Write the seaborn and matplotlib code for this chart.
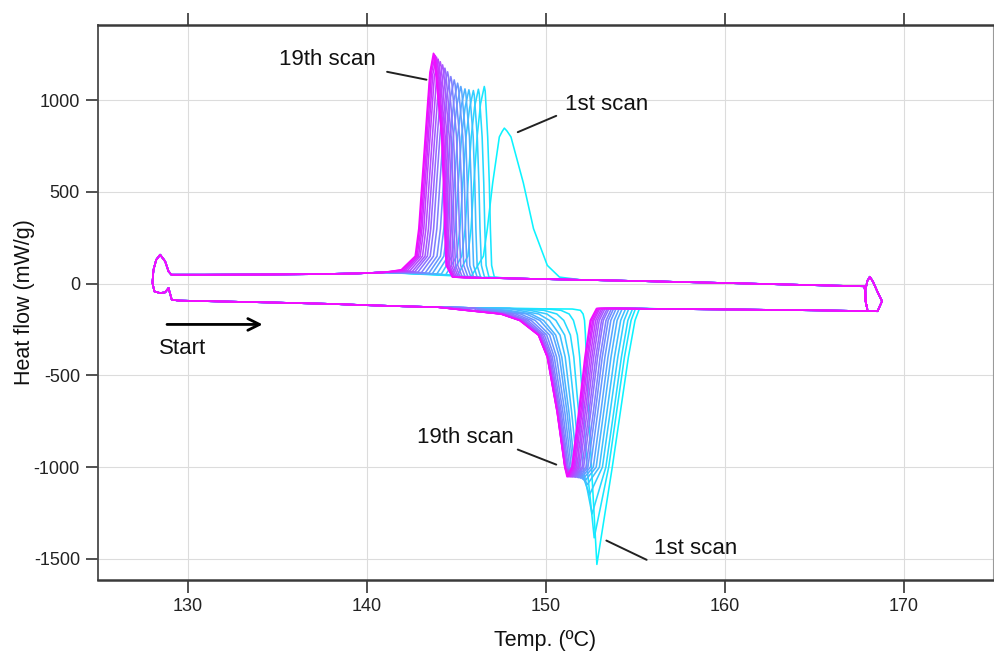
import numpy as np
import pandas as pd
import matplotlib
matplotlib.use('Agg')
import matplotlib.pyplot as plt
import seaborn as sns

# scan labels (1st ... 19th)
scan_names = [f'scan {i}' for i in range(1, 20)]

# --- heating branch (lower curve) ---
start_T = [128.94, 129.12]
start_Y = [-24, -87]
heat_base_T = [129.5, 132, 135, 138, 140, 142, 144, 146, 148, 150, 151.5]
heat_base_Y = [-92, -97, -103, -110, -117, -123, -128, -132, -135, -137, -138]

# melting dip: temperature where each curve crosses these heat-flow levels
melt_levels_left = [-145, -165, -200, -280, -400, -700, -1000]
m_L145 = [151.95, 150.86, 149.90, 149.13, 148.49, 147.92, 147.53, 147.09, 146.70, 146.38, 146.13, 145.93, 145.81, 145.71, 145.65, 145.61, 145.58, 145.56, 145.55]
m_L165 = [152.10, 151.32, 150.63, 150.08, 149.62, 149.20, 148.93, 148.60, 148.33, 148.10, 147.91, 147.78, 147.68, 147.62, 147.57, 147.55, 147.52, 147.51, 147.50]
m_L200 = [152.18, 151.56, 151.02, 150.58, 150.22, 149.89, 149.68, 149.42, 149.20, 149.02, 148.88, 148.77, 148.70, 148.64, 148.60, 148.59, 148.57, 148.56, 148.55]
m_L280 = [152.23, 151.78, 151.39, 151.07, 150.81, 150.57, 150.42, 150.23, 150.07, 149.94, 149.84, 149.76, 149.71, 149.67, 149.64, 149.63, 149.61, 149.61, 149.60]
m_L400 = [152.28, 151.91, 151.58, 151.32, 151.10, 150.91, 150.78, 150.62, 150.49, 150.38, 150.30, 150.23, 150.19, 150.15, 150.13, 150.12, 150.11, 150.10, 150.10]
m_L700 = [152.42, 152.12, 151.85, 151.64, 151.46, 151.31, 151.20, 151.08, 150.97, 150.88, 150.81, 150.76, 150.72, 150.69, 150.68, 150.67, 150.66, 150.65, 150.65]
m_L1000 = [152.57, 152.32, 152.09, 151.91, 151.77, 151.63, 151.54, 151.44, 151.35, 151.27, 151.21, 151.17, 151.14, 151.12, 151.10, 151.10, 151.09, 151.08, 151.08]
m_min_T = [152.87, 152.72, 152.60, 152.46, 152.33, 152.20, 152.08, 151.97, 151.87, 151.78, 151.69, 151.61, 151.53, 151.46, 151.40, 151.34, 151.29, 151.24, 151.20]
m_min_Y = [-1530, -1385, -1255, -1150, -1095, -1075, -1065, -1060, -1058, -1056, -1055, -1054, -1054, -1053, -1053, -1052, -1052, -1052, -1052]
melt_levels_right = [-1000, -700, -400, -200, -135]
m_R1000 = [153.73, 153.53, 153.37, 153.18, 153.01, 152.83, 152.67, 152.51, 152.37, 152.26, 152.13, 152.04, 151.92, 151.83, 151.74, 151.65, 151.58, 151.52, 151.47]
m_R700 = [154.18, 153.97, 153.81, 153.61, 153.43, 153.25, 153.09, 152.92, 152.78, 152.67, 152.53, 152.43, 152.32, 152.22, 152.13, 152.04, 151.97, 151.90, 151.85]
m_R400 = [154.63, 154.41, 154.24, 154.04, 153.85, 153.66, 153.49, 153.32, 153.17, 153.05, 152.91, 152.81, 152.69, 152.59, 152.49, 152.39, 152.32, 152.25, 152.20]
m_R200 = [155.00, 154.78, 154.60, 154.39, 154.20, 154.00, 153.83, 153.65, 153.50, 153.38, 153.23, 153.13, 153.00, 152.90, 152.80, 152.70, 152.63, 152.55, 152.50]
m_ret = [155.25, 155.03, 154.87, 154.66, 154.48, 154.29, 154.12, 153.95, 153.81, 153.69, 153.55, 153.45, 153.33, 153.23, 153.14, 153.04, 152.97, 152.90, 152.85]
post_melt_T = [154.0, 157.0, 161.0, 165.0, 168.55]
post_melt_Y = [-135, -138, -141, -145, -150]

# small loop at the hot end (169 C)
hot_loop_T = [168.8, 168.55, 168.3, 168.12, 167.98, 167.87, 167.88, 167.98, 167.88, 167.86, 167.8]
hot_loop_Y = [-95, -45, 10, 38, 15, -35, -95, -140, -95, -40, -14]

# --- cooling branch (upper curve) ---
cool_base_T = [165, 160, 155, 152, 150, 148, 146.5, 145.5]
cool_base_Y = [-8, 4, 15, 21, 25, 29, 32, 34]
onset_Y = 36
cr_on_T = [150.78, 147.14, 146.84, 146.59, 146.37, 146.18, 145.98, 145.83, 145.67, 145.51, 145.35, 145.23, 145.13, 145.03, 144.94, 144.88, 144.84, 144.81, 144.80]
cryst_levels_right = [100, 300, 550, 800]
cr_R100 = [150.10, 146.99, 146.68, 146.42, 146.18, 145.98, 145.77, 145.61, 145.43, 145.26, 145.10, 144.97, 144.85, 144.74, 144.64, 144.57, 144.51, 144.47, 144.45]
cr_R300 = [149.33, 146.92, 146.61, 146.34, 146.11, 145.91, 145.70, 145.53, 145.36, 145.19, 145.02, 144.89, 144.78, 144.67, 144.56, 144.49, 144.44, 144.39, 144.37]
cr_R550 = [148.76, 146.86, 146.55, 146.28, 146.05, 145.85, 145.63, 145.47, 145.30, 145.12, 144.96, 144.83, 144.71, 144.60, 144.50, 144.42, 144.37, 144.32, 144.30]
cr_R800 = [148.07, 146.77, 146.46, 146.19, 145.96, 145.75, 145.54, 145.38, 145.20, 145.03, 144.86, 144.73, 144.62, 144.50, 144.40, 144.32, 144.27, 144.22, 144.20]
# shoulder points just either side of each maximum
cr_topR_T = [147.85, 146.63, 146.30, 146.02, 145.77, 145.55, 145.32, 145.14, 144.95, 144.76, 144.58, 144.43, 144.30, 144.17, 144.05, 143.96, 143.89, 143.83, 143.79]
cr_topR_Y = [832, 1050, 1035, 1028, 1032, 1037, 1050, 1068, 1086, 1104, 1130, 1150, 1168, 1185, 1199, 1210, 1219, 1226, 1231]
cr_pk_T = [147.70, 146.58, 146.25, 145.97, 145.72, 145.50, 145.27, 145.09, 144.90, 144.71, 144.53, 144.38, 144.25, 144.12, 144.00, 143.91, 143.84, 143.78, 143.74]
cr_pk_Y = [848, 1075, 1060, 1053, 1057, 1062, 1075, 1093, 1111, 1129, 1155, 1175, 1193, 1210, 1224, 1235, 1244, 1251, 1256]
cr_topL_T = [147.58, 146.37, 146.04, 145.76, 145.51, 145.29, 145.06, 144.88, 144.69, 144.50, 144.32, 144.17, 144.04, 143.91, 143.79, 143.70, 143.63, 143.57, 143.54]
cr_topL_Y = [830, 980, 965, 958, 962, 967, 980, 998, 1016, 1034, 1060, 1080, 1098, 1115, 1129, 1140, 1149, 1150, 1150]
cryst_levels_left = [800, 550, 300, 150]
cr_L800 = [147.42, 146.18, 145.85, 145.56, 145.31, 145.09, 144.85, 144.67, 144.48, 144.28, 144.10, 143.95, 143.81, 143.68, 143.55, 143.46, 143.39, 143.32, 143.28]
cr_L550 = [147.05, 146.00, 145.67, 145.38, 145.13, 144.91, 144.67, 144.49, 144.30, 144.10, 143.92, 143.77, 143.63, 143.50, 143.37, 143.28, 143.21, 143.14, 143.10]
cr_L300 = [146.75, 145.84, 145.51, 145.22, 144.97, 144.74, 144.51, 144.32, 144.13, 143.93, 143.75, 143.59, 143.46, 143.32, 143.20, 143.10, 143.03, 142.96, 142.92]
cr_L150 = [146.53, 145.66, 145.32, 145.04, 144.78, 144.56, 144.32, 144.13, 143.94, 143.74, 143.56, 143.40, 143.27, 143.13, 143.00, 142.91, 142.83, 142.77, 142.72]
cr_tail_T = [145.84, 145.08, 144.73, 144.43, 144.17, 143.93, 143.68, 143.48, 143.28, 143.07, 142.87, 142.70, 142.56, 142.41, 142.27, 142.16, 142.07, 142.00, 141.94]
cr_tail_Y = [38, 45, 47, 49, 51, 53, 55, 57, 59, 61, 63, 65, 67, 69, 70, 72, 73, 75, 76]
post_cryst_T = [141.0, 139.5, 137.0, 134.0, 131.0, 129.1]
post_cryst_Y = [62, 56, 52, 50, 49, 49]

# small loop at the cold end (128 C), closes back onto the start point
cold_loop_T = [128.94, 128.75, 128.47, 128.25, 128.1, 128.04, 128.15, 128.47, 128.75, 128.94]
cold_loop_Y = [67, 122, 158, 130, 76, 5, -42, -51, -47, -24]

# assemble one closed path per scan
frames = []
for k, name in enumerate(scan_names):
    T = list(start_T)
    Y = list(start_Y)
    for t, y in zip(heat_base_T, heat_base_Y):
        if t < m_L145[k]:
            T.append(t); Y.append(y)
    T += [m_L145[k], m_L165[k], m_L200[k], m_L280[k], m_L400[k], m_L700[k], m_L1000[k]]
    Y += melt_levels_left
    T.append(m_min_T[k]); Y.append(m_min_Y[k])
    T += [m_R1000[k], m_R700[k], m_R400[k], m_R200[k], m_ret[k]]
    Y += melt_levels_right
    for t, y in zip(post_melt_T, post_melt_Y):
        if t > m_ret[k]:
            T.append(t); Y.append(y)
    T += hot_loop_T
    Y += hot_loop_Y
    for t, y in zip(cool_base_T, cool_base_Y):
        if t > cr_on_T[k]:
            T.append(t); Y.append(y)
    T.append(cr_on_T[k]); Y.append(onset_Y)
    T += [cr_R100[k], cr_R300[k], cr_R550[k], cr_R800[k]]
    Y += cryst_levels_right
    T += [cr_topR_T[k], cr_pk_T[k], cr_topL_T[k]]
    Y += [cr_topR_Y[k], cr_pk_Y[k], cr_topL_Y[k]]
    T += [cr_L800[k], cr_L550[k], cr_L300[k], cr_L150[k]]
    Y += cryst_levels_left
    T.append(cr_tail_T[k]); Y.append(cr_tail_Y[k])
    for t, y in zip(post_cryst_T, post_cryst_Y):
        if t < cr_tail_T[k]:
            T.append(t); Y.append(y)
    T += cold_loop_T
    Y += cold_loop_Y
    frames.append(pd.DataFrame({'temp': T, 'heat': Y, 'scan': name}))
df = pd.concat(frames, ignore_index=True)

sns.set_theme(style='whitegrid')
plt.rcParams['font.family'] = ['Liberation Sans', 'DejaVu Sans']
plt.rcParams['axes.unicode_minus'] = False

fig = plt.figure(figsize=(9.94, 6.55), dpi=100)
ax = fig.add_axes([0.0986, 0.1145, 0.9004, 0.8473])

sns.lineplot(data=df, x='temp', y='heat', hue='scan', hue_order=scan_names,
             palette=sns.color_palette('cool', len(scan_names)), sort=False,
             estimator=None, legend=False, linewidth=1.15, ax=ax)

ax.set_xlim(125, 175)
ax.set_ylim(-1615, 1410)
ax.set_xticks([130, 140, 150, 160, 170])
ax.set_yticks([-1500, -1000, -500, 0, 500, 1000])
ax.grid(True, color='#dcdcdc', linewidth=0.8)
ax.set_facecolor('white')

for side in ['top', 'bottom']:
    ax.spines[side].set_color('#3a3a3a')
    ax.spines[side].set_linewidth(1.8)
ax.spines['left'].set_color('#4a4a4a')
ax.spines['left'].set_linewidth(1.3)
ax.spines['right'].set_color('#9a9a9a')
ax.spines['right'].set_linewidth(0.8)

ax.tick_params(axis='x', which='major', bottom=True, top=True, labeltop=False,
               direction='out', length=9, width=1.2, color='#333333',
               labelsize=13, labelcolor='#222222', pad=4)
ax.tick_params(axis='y', which='major', left=True, right=False,
               direction='out', length=9, width=1.2, color='#333333',
               labelsize=13, labelcolor='#222222', pad=4)

ax.set_xlabel('Temp. (ºC)', fontsize=15.5, color='#111111', labelpad=11)
ax.set_ylabel('Heat flow (mW/g)', fontsize=15.5, color='#111111', labelpad=-1)

# annotations
txt_kw = dict(fontsize=16, color='#111111', ha='center', va='center')
ax.text(137.8, 1222, '19th scan', **txt_kw)
ax.plot([141.15, 143.35], [1155, 1112], color='#222222', lw=1.4)
ax.text(153.4, 975, '1st scan', **txt_kw)
ax.plot([150.6, 148.45], [915, 826], color='#222222', lw=1.4)
ax.text(145.5, -840, '19th scan', **txt_kw)
ax.plot([148.45, 150.6], [-904, -986], color='#222222', lw=1.4)
ax.text(158.4, -1443, '1st scan', **txt_kw)
ax.plot([153.4, 155.65], [-1400, -1505], color='#222222', lw=1.4)

ax.annotate('', xy=(134.35, -222), xytext=(128.7, -222),
            arrowprops=dict(arrowstyle='->,head_length=0.7,head_width=0.35',
                            color='black', lw=2))
ax.text(129.7, -352, 'Start', **txt_kw)

fig.savefig('out.png', dpi=100)
